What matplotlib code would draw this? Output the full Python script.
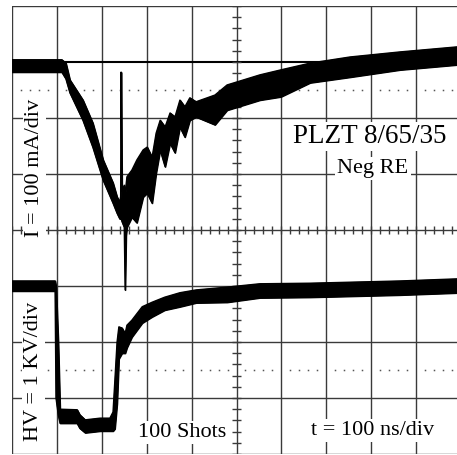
import matplotlib
matplotlib.use("Agg")
import matplotlib.pyplot as plt
import numpy as np

# ---- data (screen divisions: x 0..10 = 100 ns/div, y 0..8) ----
cur_t = [0.00, 1.11, 1.20, 1.29, 1.58, 1.80, 2.03, 2.25, 2.34, 2.40, 2.42, 2.43, 2.45,
         2.50, 2.52, 2.54, 2.56, 2.67, 2.78, 2.92, 3.01, 3.12, 3.21, 3.30, 3.41, 3.52,
         3.63, 3.74, 3.85, 3.96, 4.10, 4.52, 4.79, 5.52, 5.99, 6.64, 7.53, 8.64, 9.91, 10.0]
cur_top = [7.04, 7.04, 6.98, 6.68, 6.32, 5.91, 5.25, 4.84, 4.59, 4.50, 4.60, 6.82, 4.70,
           4.80, 4.60, 4.80, 4.95, 5.07, 5.25, 5.43, 5.48, 5.30, 5.73, 5.96, 5.84, 6.09,
           6.02, 6.32, 6.20, 6.36, 6.29, 6.41, 6.59, 6.77, 6.86, 6.98, 7.09, 7.18, 7.27, 7.27]
cur_bot = [6.82, 6.82, 6.70, 6.45, 5.96, 5.48, 4.89, 4.48, 4.30, 4.20, 4.20, 4.20, 4.15,
           4.05, 2.93, 3.90, 4.05, 4.23, 4.13, 4.59, 4.66, 4.48, 5.02, 5.43, 5.13, 5.55,
           5.38, 5.84, 5.66, 5.96, 6.02, 5.88, 6.14, 6.32, 6.38, 6.63, 6.73, 6.86, 6.95, 6.95]

hv_t = [0.00, 0.96, 0.98, 1.03, 1.07, 1.45, 1.51, 1.63, 1.96, 2.18, 2.25, 2.29, 2.34,
        2.38, 2.45, 2.52, 2.56, 2.67, 2.90, 3.12, 3.40, 3.74, 4.10, 4.79, 5.52, 6.64,
        8.64, 10.0]
hv_top = [3.09, 3.09, 3.00, 2.00, 0.80, 0.79, 0.70, 0.61, 0.64, 0.64, 0.75, 1.30, 2.00,
          2.27, 2.25, 2.15, 2.30, 2.39, 2.63, 2.71, 2.80, 2.88, 2.93, 2.98, 3.04, 3.05,
          3.09, 3.13]
hv_bot = [2.91, 2.91, 1.00, 0.70, 0.55, 0.55, 0.46, 0.38, 0.41, 0.41, 0.41, 0.45, 0.90,
          1.70, 1.80, 1.80, 1.90, 2.09, 2.34, 2.45, 2.57, 2.63, 2.70, 2.71, 2.79, 2.80,
          2.84, 2.88]

major_x = [0, 1, 2, 3, 4, 5, 6, 7, 8, 9, 10]
major_y = [0, 1, 2, 3, 5, 6, 7, 8]
center_x = 5
center_y = 4
dotted_y = [1.5, 6.5]

plt.rcParams['font.family'] = ['Liberation Serif', 'DejaVu Serif']

fig = plt.figure(figsize=(4.57, 4.55), dpi=100)
ax = fig.add_axes([12/457, 1/455, 449/457, 448/455])
ax.set_xlim(0, 10)
ax.set_ylim(0, 8)
ax.axis('off')

gcol = '#3a3a3a'
for x in major_x:
    ax.axvline(x, color=gcol, lw=1.0, zorder=1)
for y in major_y:
    ax.axhline(y, color=('black' if y == 7 else gcol), lw=(1.5 if y == 7 else 1.0), zorder=1)
ax.axhline(center_y, color=gcol, lw=1.0, zorder=1)

# minor ticks on center axes
mt = np.arange(0, 10.01, 0.2)
ax.vlines(mt, center_y - 0.07, center_y + 0.07, color=gcol, lw=1.0, zorder=1)
my = np.arange(0, 8.01, 0.2)
ax.hlines(my, center_x - 0.11, center_x + 0.11, color=gcol, lw=1.0, zorder=1)

# dotted lines
dx = np.array([v for v in np.arange(0.2, 10, 0.2) if abs(v - round(v)) > 0.05])
for y in dotted_y:
    ax.plot(dx, np.full_like(dx, y), ls='none', marker='s', ms=1.1, mew=0,
            color='#555555', zorder=1)

# traces
ax.fill_between(cur_t, cur_bot, cur_top, color='black', lw=1.0, zorder=3)
ax.plot(cur_t, cur_top, color='black', lw=1.0, zorder=3)
ax.plot(cur_t, cur_bot, color='black', lw=1.0, zorder=3)
ax.fill_between(hv_t, hv_bot, hv_top, color='black', lw=1.0, zorder=3)
ax.plot(hv_t, hv_top, color='black', lw=1.0, zorder=3)
ax.plot(hv_t, hv_bot, color='black', lw=1.0, zorder=3)

box = dict(facecolor='white', edgecolor='none', pad=1.5)
ax.text(7.96, 5.55, 'PLZT 8/65/35', fontsize=19.5, ha='center', va='baseline', bbox=box, zorder=5)
ax.text(8.04, 5.02, 'Neg RE', fontsize=16, ha='center', va='baseline', bbox=box, zorder=5)
ax.text(0.51, 5.11, 'I = 100 mA/div', fontsize=16, rotation=90, ha='center', va='center', bbox=box, zorder=5)
ax.text(0.47, 1.48, 'HV = 1 KV/div', fontsize=16, rotation=90, ha='center', va='center', bbox=box, zorder=5)
ax.text(3.80, 0.30, '100 Shots', fontsize=16, ha='center', va='baseline', bbox=box, zorder=5)
ax.text(8.03, 0.34, 't = 100 ns/div', fontsize=16, ha='center', va='baseline', bbox=box, zorder=5)

fig.savefig('out.png', dpi=100)
